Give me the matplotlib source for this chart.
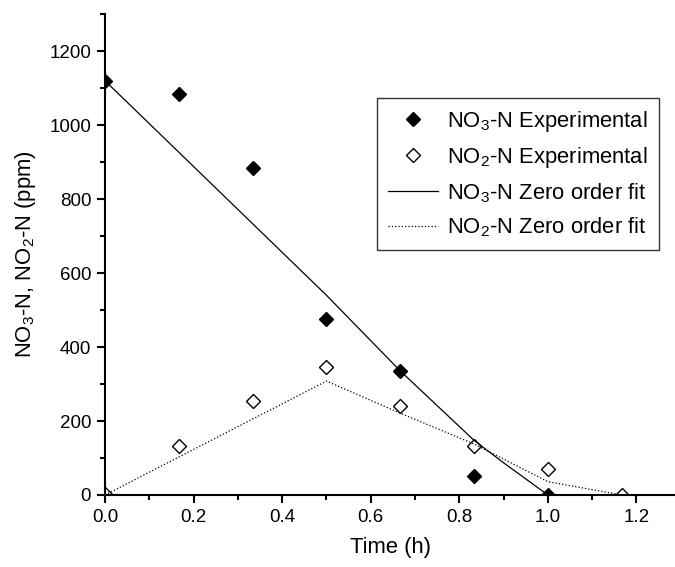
import matplotlib
matplotlib.use('Agg')
import matplotlib.pyplot as plt
from matplotlib.ticker import MultipleLocator

plt.rcParams['font.family'] = ['Liberation Sans', 'DejaVu Sans']
plt.rcParams['mathtext.fontset'] = 'custom'
plt.rcParams['mathtext.rm'] = 'Liberation Sans'
plt.rcParams['mathtext.it'] = 'Liberation Sans'

# experimental data (time in h, concentration in ppm)
time_h = [0.0, 1/6, 2/6, 3/6, 4/6, 5/6, 1.0, 7/6]
no3_exp = [1120, 1083, 885, 477, 335, 50, 0]
no2_exp = [3, 133, 254, 345, 240, 133, 70, 0]

# zero order fits
no3_fit_t = [0.0, 0.5, 0.667, 0.833, 0.9, 1.0]
no3_fit = [1120, 540, 335, 148, 87, 0]
no2_fit_t = [0.0, 0.5, 0.667, 0.833, 1.0, 1.167]
no2_fit = [0, 308, 221, 138, 36, 0]

fig = plt.figure(figsize=(6.75, 5.67), dpi=100)
ax = fig.add_axes([0.1556, 0.127, 0.8444, 0.848])

ax.plot(time_h[:len(no3_exp)], no3_exp, 'D', color='black', markersize=7.5,
        linestyle='none', clip_on=True, label=r'NO$_3$-N Experimental')
ax.plot(time_h, no2_exp, 'D', markerfacecolor='white', markeredgecolor='black',
        markersize=7.5, markeredgewidth=1, linestyle='none', clip_on=True,
        label=r'NO$_2$-N Experimental')
ax.plot(no3_fit_t, no3_fit, '-', color='black', linewidth=0.9,
        label=r'NO$_3$-N Zero order fit')
ax.plot(no2_fit_t, no2_fit, ':', color='black', linewidth=0.9,
        label=r'NO$_2$-N Zero order fit')

ax.set_xlim(0, 1.287)
ax.set_ylim(0, 1300)
ax.xaxis.set_major_locator(MultipleLocator(0.2))
ax.xaxis.set_minor_locator(MultipleLocator(0.1))
ax.yaxis.set_major_locator(MultipleLocator(200))
ax.yaxis.set_minor_locator(MultipleLocator(100))
ax.xaxis.set_major_formatter(plt.FuncFormatter(lambda v, p: f'{v:.1f}'))

for side in ['top', 'right']:
    ax.spines[side].set_visible(False)
for side in ['left', 'bottom']:
    ax.spines[side].set_linewidth(1.5)
ax.tick_params(which='major', direction='out', length=6, width=1.5,
               labelsize=13.5, pad=4)
ax.tick_params(which='minor', direction='out', length=3.5, width=1.5)

ax.set_xlabel('Time (h)', fontsize=15.8, labelpad=8)
ax.set_ylabel(r'NO$_3$-N, NO$_2$-N (ppm)', fontsize=15.8, labelpad=8)

leg = ax.legend(loc='upper left', bbox_to_anchor=(377/675, 1 - 98/567),
                bbox_transform=fig.transFigure, fontsize=15.8, frameon=True,
                fancybox=False, edgecolor='black', handlelength=2.3,
                labelspacing=0.5, borderpad=0.5, handletextpad=0.4,
                borderaxespad=0)
leg.get_frame().set_linewidth(1)

fig.savefig('out.png', dpi=100)
